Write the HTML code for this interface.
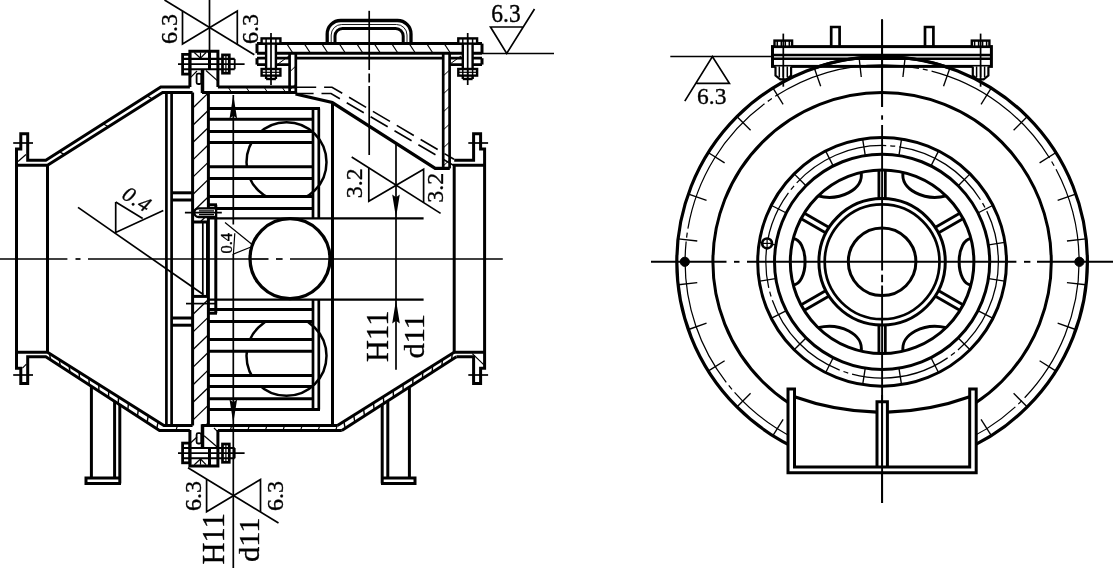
<!DOCTYPE html>
<html><head><meta charset="utf-8"><style>
html,body{margin:0;padding:0;background:#fff;}
svg{display:block;font-family:"Liberation Serif",serif;filter:blur(0.35px);}
</style></head><body>
<svg width="1113" height="568" viewBox="0 0 1113 568" fill="none" stroke="#000">
<rect x="0" y="0" width="1113" height="568" fill="#fff" stroke="none"/>
<line x1="0" y1="259" x2="67.4" y2="259" stroke-width="1.7"/>
<line x1="75.5" y1="259" x2="80.5" y2="259" stroke-width="1.7"/>
<line x1="88" y1="259" x2="268.5" y2="259" stroke-width="1.7"/>
<line x1="276" y1="259" x2="282.6" y2="259" stroke-width="1.7"/>
<line x1="290" y1="259" x2="502.8" y2="259" stroke-width="1.7"/>
<circle cx="286.5" cy="162.2" r="40" stroke-width="2.5" fill="none"/>
<circle cx="286.5" cy="355.8" r="40" stroke-width="2.5" fill="none"/>
<rect x="208.5" y="108.5" width="104" height="10.8" fill="#fff" stroke="none"/>
<line x1="208.5" y1="108.5" x2="313" y2="108.5" stroke-width="3.0"/>
<line x1="208.5" y1="119.3" x2="313" y2="119.3" stroke-width="3.0"/>
<rect x="208.5" y="398.7" width="104" height="10.8" fill="#fff" stroke="none"/>
<line x1="208.5" y1="398.7" x2="313" y2="398.7" stroke-width="3.0"/>
<line x1="208.5" y1="409.5" x2="313" y2="409.5" stroke-width="3.0"/>
<rect x="208.5" y="131.4" width="104" height="11" fill="#fff" stroke="none"/>
<line x1="208.5" y1="131.4" x2="313" y2="131.4" stroke-width="3.0"/>
<line x1="208.5" y1="142.4" x2="313" y2="142.4" stroke-width="3.0"/>
<rect x="208.5" y="375.6" width="104" height="11" fill="#fff" stroke="none"/>
<line x1="208.5" y1="375.6" x2="313" y2="375.6" stroke-width="3.0"/>
<line x1="208.5" y1="386.6" x2="313" y2="386.6" stroke-width="3.0"/>
<rect x="208.5" y="166.8" width="104" height="11.7" fill="#fff" stroke="none"/>
<line x1="208.5" y1="166.8" x2="313" y2="166.8" stroke-width="3.0"/>
<line x1="208.5" y1="178.5" x2="313" y2="178.5" stroke-width="3.0"/>
<rect x="208.5" y="339.5" width="104" height="11.7" fill="#fff" stroke="none"/>
<line x1="208.5" y1="339.5" x2="313" y2="339.5" stroke-width="3.0"/>
<line x1="208.5" y1="351.2" x2="313" y2="351.2" stroke-width="3.0"/>
<rect x="208.5" y="196.5" width="104" height="12" fill="#fff" stroke="none"/>
<line x1="208.5" y1="196.5" x2="313" y2="196.5" stroke-width="3.0"/>
<line x1="208.5" y1="208.5" x2="313" y2="208.5" stroke-width="3.0"/>
<rect x="208.5" y="309.5" width="104" height="12" fill="#fff" stroke="none"/>
<line x1="208.5" y1="309.5" x2="313" y2="309.5" stroke-width="3.0"/>
<line x1="208.5" y1="321.5" x2="313" y2="321.5" stroke-width="3.0"/>
<line x1="312" y1="108.5" x2="320" y2="108.5" stroke-width="3.0"/>
<line x1="312" y1="409.5" x2="320" y2="409.5" stroke-width="3.0"/>
<line x1="313" y1="108.5" x2="313" y2="218.3" stroke-width="2.7"/>
<line x1="313" y1="299.7" x2="313" y2="409.5" stroke-width="2.7"/>
<line x1="318.8" y1="108.5" x2="318.8" y2="218.3" stroke-width="2.7"/>
<line x1="318.8" y1="299.7" x2="318.8" y2="409.5" stroke-width="2.7"/>
<line x1="208.5" y1="218.3" x2="423.6" y2="218.3" stroke-width="2.3"/>
<line x1="208.5" y1="299.7" x2="423.6" y2="299.7" stroke-width="2.3"/>
<line x1="332.5" y1="103.5" x2="332.5" y2="425.4" stroke-width="3.0"/>
<circle cx="290" cy="258.6" r="40" stroke-width="3.3" fill="#fff"/>
<line x1="250" y1="259" x2="268.5" y2="259" stroke-width="1.7"/>
<line x1="276" y1="259" x2="282.6" y2="259" stroke-width="1.7"/>
<line x1="290" y1="259" x2="330" y2="259" stroke-width="1.7"/>
<path d="M16.5 259 L16.5 149 L20.8 149 L20.8 133.8 L27.7 133.8 L27.7 160.2 L45.8 160.2 L160.8 87.1 L189.9 87.1" stroke-width="3.0" fill="none" stroke-linejoin="miter"/>
<path d="M16.5 165.3 L47.5 165.3 L162.6 92.5 L192.6 92.5" stroke-width="3.0" fill="none" stroke-linejoin="miter"/>
<line x1="47.5" y1="165.3" x2="47.5" y2="259" stroke-width="3.0"/>
<line x1="13.2" y1="143" x2="33" y2="143" stroke-width="1.7"/>
<line x1="18" y1="161.5" x2="26" y2="154.5" stroke-width="1.2"/>
<line x1="166.4" y1="92.5" x2="166.4" y2="259" stroke-width="2.7"/>
<line x1="171.6" y1="92.5" x2="171.6" y2="259" stroke-width="2.7"/>
<line x1="171.6" y1="192.8" x2="192.6" y2="192.8" stroke-width="3.0"/>
<line x1="171.6" y1="200" x2="192.6" y2="200" stroke-width="3.0"/>
<path d="M484.6 259 L484.6 149 L480.6 149 L480.6 133.8 L473.6 133.8 L473.6 160.2 L454.2 160.2" stroke-width="3.0" fill="none" stroke-linejoin="miter"/>
<path d="M484.6 165.3 L454.2 165.3 L454.2 259" stroke-width="3.0" fill="none" stroke-linejoin="miter"/>
<line x1="468.3" y1="143" x2="488.1" y2="143" stroke-width="1.7"/>
<path d="M16.5 259 L16.5 368.2 L20.8 368.2 L20.8 383.6 L27.7 383.6 L27.7 356.7 L45.8 356.7 L159.5 430.4 L189.9 430.4" stroke-width="3.0" fill="none" stroke-linejoin="miter"/>
<path d="M16.5 352.3 L47.5 352.3 L163.9 425.4 L192.6 425.4" stroke-width="3.0" fill="none" stroke-linejoin="miter"/>
<line x1="47.5" y1="352.3" x2="47.5" y2="259" stroke-width="3.0"/>
<line x1="13.2" y1="375" x2="33" y2="375" stroke-width="1.7"/>
<line x1="22.4" y1="368.2" x2="26.4" y2="364.2" stroke-width="1.2"/>
<line x1="166.4" y1="425.4" x2="166.4" y2="259" stroke-width="2.7"/>
<line x1="171.6" y1="425.4" x2="171.6" y2="259" stroke-width="2.7"/>
<line x1="171.6" y1="325.2" x2="192.6" y2="325.2" stroke-width="3.0"/>
<line x1="171.6" y1="318" x2="192.6" y2="318" stroke-width="3.0"/>
<path d="M484.6 259 L484.6 368.2 L480.6 368.2 L480.6 383.6 L473.6 383.6 L473.6 356.7 L456.4 356.7" stroke-width="3.0" fill="none" stroke-linejoin="miter"/>
<path d="M484.6 352.3 L454.2 352.3 L454.2 259" stroke-width="3.0" fill="none" stroke-linejoin="miter"/>
<line x1="468.3" y1="375" x2="488.1" y2="375" stroke-width="1.7"/>
<line x1="472.3" y1="353.6" x2="483.7" y2="364.6" stroke-width="1.2"/>
<line x1="59.3" y1="151.62" x2="64.39" y2="154.62" stroke-width="1.2"/>
<line x1="103.19" y1="123.72" x2="108.32" y2="126.83" stroke-width="1.2"/>
<line x1="147.07" y1="95.83" x2="152.24" y2="99.05" stroke-width="1.2"/>
<line x1="50.63" y1="359.83" x2="49.43" y2="353.51" stroke-width="1.4"/>
<line x1="60.28" y1="366.08" x2="59.31" y2="359.72" stroke-width="1.4"/>
<line x1="69.93" y1="372.34" x2="69.19" y2="365.92" stroke-width="1.4"/>
<line x1="79.58" y1="378.59" x2="79.07" y2="372.13" stroke-width="1.4"/>
<line x1="89.23" y1="384.85" x2="88.95" y2="378.33" stroke-width="1.4"/>
<line x1="98.88" y1="391.1" x2="98.83" y2="384.53" stroke-width="1.4"/>
<line x1="108.53" y1="397.36" x2="108.71" y2="390.74" stroke-width="1.4"/>
<line x1="118.18" y1="403.61" x2="118.59" y2="396.94" stroke-width="1.4"/>
<line x1="127.83" y1="409.87" x2="128.47" y2="403.15" stroke-width="1.4"/>
<line x1="137.48" y1="416.12" x2="138.35" y2="409.35" stroke-width="1.4"/>
<line x1="147.13" y1="422.38" x2="148.22" y2="415.56" stroke-width="1.4"/>
<line x1="156.78" y1="428.63" x2="158.1" y2="421.76" stroke-width="1.4"/>
<line x1="451.56" y1="359.81" x2="452.27" y2="353.51" stroke-width="1.4"/>
<line x1="441.89" y1="366.03" x2="442.41" y2="359.68" stroke-width="1.4"/>
<line x1="432.22" y1="372.25" x2="432.55" y2="365.85" stroke-width="1.4"/>
<line x1="422.55" y1="378.47" x2="422.7" y2="372.02" stroke-width="1.4"/>
<line x1="412.87" y1="384.69" x2="412.84" y2="378.19" stroke-width="1.4"/>
<line x1="403.2" y1="390.91" x2="402.98" y2="384.36" stroke-width="1.4"/>
<line x1="393.53" y1="397.13" x2="393.12" y2="390.53" stroke-width="1.4"/>
<line x1="383.86" y1="403.35" x2="383.26" y2="396.7" stroke-width="1.4"/>
<line x1="374.18" y1="409.57" x2="373.41" y2="402.87" stroke-width="1.4"/>
<line x1="364.51" y1="415.79" x2="363.55" y2="409.04" stroke-width="1.4"/>
<line x1="354.84" y1="422.01" x2="353.69" y2="415.2" stroke-width="1.4"/>
<line x1="345.17" y1="428.23" x2="343.83" y2="421.37" stroke-width="1.4"/>
<line x1="217.9" y1="87.1" x2="296" y2="87.1" stroke-width="3.0"/>
<line x1="202" y1="92.5" x2="296" y2="92.5" stroke-width="3.0"/>
<line x1="228" y1="87" x2="232" y2="93" stroke-width="1"/>
<line x1="246" y1="87" x2="250" y2="93" stroke-width="1"/>
<line x1="264" y1="87" x2="268" y2="93" stroke-width="1"/>
<line x1="282" y1="87" x2="286" y2="93" stroke-width="1"/>
<line x1="217.9" y1="430.4" x2="341.8" y2="430.4" stroke-width="3.0"/>
<line x1="202" y1="425.4" x2="337.4" y2="425.4" stroke-width="3.0"/>
<line x1="230.2" y1="430.4" x2="231.8" y2="425.4" stroke-width="1.2"/>
<line x1="247.8" y1="430.4" x2="249.4" y2="425.4" stroke-width="1.2"/>
<line x1="265.4" y1="430.4" x2="267" y2="425.4" stroke-width="1.2"/>
<line x1="283" y1="430.4" x2="284.6" y2="425.4" stroke-width="1.2"/>
<line x1="300.6" y1="430.4" x2="302.2" y2="425.4" stroke-width="1.2"/>
<line x1="318.2" y1="430.4" x2="319.8" y2="425.4" stroke-width="1.2"/>
<line x1="335.7" y1="430.4" x2="337.3" y2="425.4" stroke-width="1.2"/>
<line x1="176" y1="430.4" x2="177.5" y2="425.4" stroke-width="1.2"/>
<line x1="192.6" y1="92.6" x2="192.6" y2="425.4" stroke-width="3.0"/>
<line x1="208.4" y1="93" x2="208.4" y2="425" stroke-width="3.0"/>
<clipPath id="cpU"><rect x="192.6" y="93" width="15.8" height="128.5"/></clipPath>
<clipPath id="cpL"><rect x="192.6" y="296.5" width="15.8" height="128.5"/></clipPath>
<g clip-path="url(#cpU)">
<line x1="192.6" y1="108.2" x2="208.4" y2="92.9" stroke-width="1.3"/>
<line x1="192.6" y1="125.5" x2="208.4" y2="110.2" stroke-width="1.3"/>
<line x1="192.6" y1="142.8" x2="208.4" y2="127.5" stroke-width="1.3"/>
<line x1="192.6" y1="160.1" x2="208.4" y2="144.8" stroke-width="1.3"/>
<line x1="192.6" y1="177.4" x2="208.4" y2="162.1" stroke-width="1.3"/>
<line x1="192.6" y1="194.7" x2="208.4" y2="179.4" stroke-width="1.3"/>
<line x1="192.6" y1="212" x2="208.4" y2="196.7" stroke-width="1.3"/>
<line x1="192.6" y1="229.3" x2="208.4" y2="214" stroke-width="1.3"/>
</g>
<g clip-path="url(#cpL)">
<line x1="192.6" y1="314.8" x2="208.4" y2="299.5" stroke-width="1.3"/>
<line x1="192.6" y1="332.4" x2="208.4" y2="317.1" stroke-width="1.3"/>
<line x1="192.6" y1="350" x2="208.4" y2="334.7" stroke-width="1.3"/>
<line x1="192.6" y1="367.6" x2="208.4" y2="352.3" stroke-width="1.3"/>
<line x1="192.6" y1="385.2" x2="208.4" y2="369.9" stroke-width="1.3"/>
<line x1="192.6" y1="402.8" x2="208.4" y2="387.5" stroke-width="1.3"/>
<line x1="192.6" y1="420.4" x2="208.4" y2="405.1" stroke-width="1.3"/>
<line x1="192.6" y1="438" x2="208.4" y2="422.7" stroke-width="1.3"/>
</g>
<line x1="192.6" y1="222" x2="207.5" y2="222" stroke-width="3.0"/>
<line x1="192.6" y1="296.4" x2="207.5" y2="296.4" stroke-width="3.0"/>
<line x1="202.8" y1="222" x2="202.8" y2="296" stroke-width="1.7"/>
<line x1="207.5" y1="222" x2="207.5" y2="296.4" stroke-width="3.0"/>
<line x1="215.8" y1="204.8" x2="215.8" y2="313.2" stroke-width="3.0"/>
<line x1="207.5" y1="204.8" x2="217" y2="204.8" stroke-width="3.0"/>
<line x1="207.5" y1="313.2" x2="217" y2="313.2" stroke-width="3.0"/>
<line x1="186" y1="303.6" x2="215.6" y2="303.6" stroke-width="1.7"/>
<path d="M215 208.4 L198.6 208.4 A4.3 4.3 0 0 0 198.6 217 L215 217" stroke-width="2.4" fill="#fff"/>
<line x1="184.9" y1="212.7" x2="221.8" y2="212.7" stroke-width="1.7"/>
<line x1="199" y1="210.9" x2="214" y2="210.9" stroke-width="1.3"/>
<line x1="199" y1="214.6" x2="214" y2="214.6" stroke-width="1.3"/>
<path d="M295.5 94 L332.3 102.5 L435.2 168.4 L449.8 168.4" stroke-width="3.3" fill="none" stroke-linejoin="miter"/>
<path d="M296.4 87.2 L332 87.2 L454 159.2" stroke-width="1.6" fill="none" stroke-dasharray="19.8 7.9"/>
<path d="M296.4 93.5 L331 93.5 L454 165.6" stroke-width="1.6" fill="none" stroke-dasharray="17.2 7.9 19.8 7.9 19.8 7.9 19.8 7.9 19.8 7.9 19.8 7.9 19.8 7.9"/>
<line x1="289.6" y1="53" x2="289.6" y2="94" stroke-width="2.7"/>
<line x1="295.8" y1="53" x2="295.8" y2="94" stroke-width="2.7"/>
<line x1="443.2" y1="53" x2="443.2" y2="168.4" stroke-width="2.7"/>
<line x1="449.6" y1="53" x2="449.6" y2="168.4" stroke-width="2.7"/>
<line x1="289.6" y1="72" x2="295.8" y2="66" stroke-width="1"/>
<line x1="289.6" y1="90" x2="295.8" y2="84" stroke-width="1"/>
<line x1="443.2" y1="76" x2="449.6" y2="70" stroke-width="1"/>
<line x1="443.2" y1="94" x2="449.6" y2="88" stroke-width="1"/>
<line x1="443.2" y1="112" x2="449.6" y2="106" stroke-width="1"/>
<line x1="443.2" y1="130" x2="449.6" y2="124" stroke-width="1"/>
<line x1="443.2" y1="148" x2="449.6" y2="142" stroke-width="1"/>
<line x1="443.2" y1="166" x2="449.6" y2="160" stroke-width="1"/>
<line x1="257" y1="43.6" x2="482" y2="43.6" stroke-width="3.0"/>
<line x1="257" y1="53.2" x2="482" y2="53.2" stroke-width="3.0"/>
<line x1="257" y1="43.6" x2="257" y2="53.2" stroke-width="3.0"/>
<line x1="482" y1="43.6" x2="482" y2="53.2" stroke-width="3.0"/>
<line x1="257" y1="58.2" x2="289.6" y2="58.2" stroke-width="2.7"/>
<line x1="257" y1="64.6" x2="289.6" y2="64.6" stroke-width="2.7"/>
<line x1="257" y1="58.2" x2="257" y2="64.6" stroke-width="3.0"/>
<line x1="295.8" y1="58.2" x2="443.2" y2="58.2" stroke-width="2.7"/>
<line x1="449.6" y1="58.2" x2="482" y2="58.2" stroke-width="2.7"/>
<line x1="449.6" y1="64.6" x2="482" y2="64.6" stroke-width="2.7"/>
<line x1="482" y1="58.2" x2="482" y2="64.6" stroke-width="3.0"/>
<line x1="286.7" y1="43.6" x2="293" y2="53.2" stroke-width="1.1"/>
<line x1="304.2" y1="43.6" x2="310.5" y2="53.2" stroke-width="1.1"/>
<line x1="321.7" y1="43.6" x2="328" y2="53.2" stroke-width="1.1"/>
<line x1="339.2" y1="43.6" x2="345.5" y2="53.2" stroke-width="1.1"/>
<line x1="356.7" y1="43.6" x2="363" y2="53.2" stroke-width="1.1"/>
<line x1="374.2" y1="43.6" x2="380.5" y2="53.2" stroke-width="1.1"/>
<line x1="391.7" y1="43.6" x2="398" y2="53.2" stroke-width="1.1"/>
<line x1="409.2" y1="43.6" x2="415.5" y2="53.2" stroke-width="1.1"/>
<line x1="426.7" y1="43.6" x2="433" y2="53.2" stroke-width="1.1"/>
<line x1="444.2" y1="43.6" x2="450.5" y2="53.2" stroke-width="1.1"/>
<line x1="278" y1="64" x2="289" y2="56" stroke-width="1"/>
<line x1="461" y1="56" x2="450" y2="64" stroke-width="1"/>
<rect x="266.1" y="43.6" width="9.8" height="35.5" fill="#fff" stroke="none"/>
<rect x="261.6" y="38.4" width="18.8" height="5.2" stroke-width="2.4" fill="#fff"/>
<line x1="266.1" y1="38.4" x2="266.1" y2="43.6" stroke-width="1.5"/>
<line x1="271" y1="38.4" x2="271" y2="43.6" stroke-width="1.5"/>
<line x1="275.9" y1="38.4" x2="275.9" y2="43.6" stroke-width="1.5"/>
<line x1="266.1" y1="43.6" x2="266.1" y2="79" stroke-width="2.4"/>
<line x1="275.9" y1="43.6" x2="275.9" y2="79" stroke-width="2.4"/>
<rect x="261.6" y="69" width="18.8" height="6.6" stroke-width="2.4" fill="#fff"/>
<line x1="266.1" y1="69" x2="266.1" y2="79" stroke-width="1.5"/>
<line x1="271" y1="69" x2="271" y2="79" stroke-width="1.5"/>
<line x1="275.9" y1="69" x2="275.9" y2="79" stroke-width="1.5"/>
<line x1="266.1" y1="79" x2="275.9" y2="79" stroke-width="2.4"/>
<line x1="261.6" y1="72.3" x2="280.4" y2="72.3" stroke-width="1.2"/>
<line x1="271" y1="33" x2="271" y2="85" stroke-width="1.7"/>
<rect x="462.8" y="43.6" width="9.8" height="35.5" fill="#fff" stroke="none"/>
<rect x="458.3" y="38.4" width="18.8" height="5.2" stroke-width="2.4" fill="#fff"/>
<line x1="462.8" y1="38.4" x2="462.8" y2="43.6" stroke-width="1.5"/>
<line x1="467.7" y1="38.4" x2="467.7" y2="43.6" stroke-width="1.5"/>
<line x1="472.6" y1="38.4" x2="472.6" y2="43.6" stroke-width="1.5"/>
<line x1="462.8" y1="43.6" x2="462.8" y2="79" stroke-width="2.4"/>
<line x1="472.6" y1="43.6" x2="472.6" y2="79" stroke-width="2.4"/>
<rect x="458.3" y="69" width="18.8" height="6.6" stroke-width="2.4" fill="#fff"/>
<line x1="462.8" y1="69" x2="462.8" y2="79" stroke-width="1.5"/>
<line x1="467.7" y1="69" x2="467.7" y2="79" stroke-width="1.5"/>
<line x1="472.6" y1="69" x2="472.6" y2="79" stroke-width="1.5"/>
<line x1="462.8" y1="79" x2="472.6" y2="79" stroke-width="2.4"/>
<line x1="458.3" y1="72.3" x2="477.1" y2="72.3" stroke-width="1.2"/>
<line x1="467.7" y1="33" x2="467.7" y2="85" stroke-width="1.7"/>
<path d="M327.2 43.6 L327.2 34 A13.5 13.5 0 0 1 340.7 20.5 L397.5 20.5 A13.5 13.5 0 0 1 411 34 L411 43.6" stroke-width="3.3" fill="none"/>
<path d="M331.2 43.6 L331.2 35 A10.5 10.5 0 0 1 341.7 24.5 L396.5 24.5 A10.5 10.5 0 0 1 407 35 L407 43.6" stroke-width="0.9" fill="none"/>
<path d="M335 43.6 L335 36 A7.5 7.5 0 0 1 342.5 28.5 L395.7 28.5 A7.5 7.5 0 0 1 403.2 36 L403.2 43.6" stroke-width="3.0" fill="none"/>
<line x1="369.2" y1="10.8" x2="369.2" y2="70" stroke-width="1.7"/>
<line x1="369.2" y1="73.5" x2="369.2" y2="82.5" stroke-width="1.7"/>
<line x1="369.2" y1="86" x2="369.2" y2="155" stroke-width="1.7"/>
<path d="M454.2 352.3 L337.4 425.4" stroke-width="3.0" fill="none" stroke-linejoin="miter"/>
<path d="M456.4 356.7 L341.8 430.4" stroke-width="3.0" fill="none" stroke-linejoin="miter"/>
<path d="M91.4 387 L91.4 478" stroke-width="3.0" fill="none" stroke-linejoin="miter"/>
<path d="M114.6 401.5 L114.6 478" stroke-width="3.0" fill="none" stroke-linejoin="miter"/>
<path d="M119.8 404.5 L119.8 483.5" stroke-width="3.0" fill="none" stroke-linejoin="miter"/>
<path d="M119.8 478 L86 478 L86 483.5 L121 483.5" stroke-width="3.0" fill="none" stroke-linejoin="miter"/>
<path d="M409.4 387.5 L409.4 478" stroke-width="3.0" fill="none" stroke-linejoin="miter"/>
<path d="M387.8 401.5 L387.8 478" stroke-width="3.0" fill="none" stroke-linejoin="miter"/>
<path d="M382.2 405 L382.2 483.5" stroke-width="3.0" fill="none" stroke-linejoin="miter"/>
<path d="M382.2 478 L415 478 L415 483.5 L381 483.5" stroke-width="3.0" fill="none" stroke-linejoin="miter"/>
<path d="M189.9 87.1 L189.9 51.3 L217.9 51.3 L217.9 87.1" stroke-width="3.0" fill="none" stroke-linejoin="miter"/>
<rect x="182.6" y="54.4" width="7.3" height="19.7" stroke-width="2.8" fill="none"/>
<line x1="182.6" y1="58.9" x2="234.7" y2="58.9" stroke-width="2.1"/>
<line x1="182.6" y1="69.2" x2="234.7" y2="69.2" stroke-width="2.1"/>
<line x1="178" y1="64.1" x2="244.6" y2="64.1" stroke-width="1.7"/>
<line x1="209.5" y1="51.3" x2="209.5" y2="69.2" stroke-width="3.0"/>
<line x1="200.5" y1="58.2" x2="194.3" y2="52.5" stroke-width="1.2"/>
<line x1="200.5" y1="58.2" x2="200.5" y2="52.5" stroke-width="1.2"/>
<line x1="200.5" y1="58.2" x2="206" y2="52.5" stroke-width="1.2"/>
<rect x="222.5" y="54.9" width="6.8" height="18.3" stroke-width="2.7" fill="none"/>
<line x1="225.9" y1="54.9" x2="225.9" y2="73.2" stroke-width="1.2"/>
<line x1="234.7" y1="58.9" x2="234.7" y2="69.2" stroke-width="1.8"/>
<line x1="202.5" y1="69.2" x2="202.5" y2="93" stroke-width="3.5"/>
<rect x="196.6" y="73.7" width="4.6" height="10.3" rx="1.5" stroke-width="1.8" fill="#fff"/>
<line x1="190.7" y1="77.3" x2="197" y2="71" stroke-width="1.2"/>
<line x1="206" y1="70.5" x2="217.4" y2="80.6" stroke-width="1.2"/>
<path d="M189.9 430.1 L189.9 465.9 L217.9 465.9 L217.9 430.1" stroke-width="3.0" fill="none" stroke-linejoin="miter"/>
<rect x="182.6" y="443.1" width="7.3" height="19.7" stroke-width="2.8" fill="none"/>
<line x1="182.6" y1="458.3" x2="234.7" y2="458.3" stroke-width="2.1"/>
<line x1="182.6" y1="448" x2="234.7" y2="448" stroke-width="2.1"/>
<line x1="178" y1="453.1" x2="244.6" y2="453.1" stroke-width="1.7"/>
<line x1="209.5" y1="465.9" x2="209.5" y2="448" stroke-width="3.0"/>
<line x1="200.5" y1="459" x2="194.3" y2="464.7" stroke-width="1.2"/>
<line x1="200.5" y1="459" x2="200.5" y2="464.7" stroke-width="1.2"/>
<line x1="200.5" y1="459" x2="206" y2="464.7" stroke-width="1.2"/>
<rect x="222.5" y="444" width="6.8" height="18.3" stroke-width="2.7" fill="none"/>
<line x1="225.9" y1="462.3" x2="225.9" y2="444" stroke-width="1.2"/>
<line x1="234.7" y1="458.3" x2="234.7" y2="448" stroke-width="1.8"/>
<line x1="202.5" y1="448" x2="202.5" y2="424.2" stroke-width="3.5"/>
<rect x="196.6" y="433.2" width="4.6" height="10.3" rx="1.5" stroke-width="1.8" fill="#fff"/>
<line x1="191.1" y1="442.5" x2="197" y2="437" stroke-width="1.2"/>
<line x1="204.1" y1="435.7" x2="217.2" y2="447" stroke-width="1.2"/>
<line x1="214" y1="428" x2="217.2" y2="431.2" stroke-width="1.2"/>
<line x1="233.3" y1="95" x2="233.3" y2="224.5" stroke-width="1.7"/>
<line x1="233.3" y1="254" x2="233.3" y2="568" stroke-width="1.7"/>
<line x1="209.5" y1="0" x2="209.5" y2="51" stroke-width="1.7"/>
<path d="M233.3 95 L229.5 118.5 L233.3 115.68 L237.1 118.5 Z" fill="#000" stroke="none"/>
<path d="M233.3 423 L229.5 399.5 L233.3 402.32 L237.1 399.5 Z" fill="#000" stroke="none"/>
<line x1="396" y1="144" x2="396" y2="369.7" stroke-width="1.7"/>
<path d="M396 217.5 L392.2 194.5 L396 197.26 L399.8 194.5 Z" fill="#000" stroke="none"/>
<path d="M396 300 L392.2 323.5 L396 320.68 L399.8 323.5 Z" fill="#000" stroke="none"/>
<line x1="164.5" y1="0" x2="254.3" y2="54.8" stroke-width="1.7"/>
<path d="M182.5 10.98 L182.5 44 L237.3 11.1 L237.3 44.43" stroke-width="1.7" fill="none" stroke-linejoin="miter"/>
<text transform="translate(177.3 44) rotate(-90) scale(1 1)" font-size="24" text-anchor="start" stroke="#000" stroke-width="0.35" fill="#000">6.3</text>
<text transform="translate(257.5 44) rotate(-90) scale(1 1)" font-size="24" text-anchor="start" stroke="#000" stroke-width="0.35" fill="#000">6.3</text>
<line x1="188" y1="467.8" x2="278.5" y2="523" stroke-width="1.7"/>
<path d="M206.6 479.14 L206.6 511.8 L260.5 479.5 L260.5 512.02" stroke-width="1.7" fill="none" stroke-linejoin="miter"/>
<text transform="translate(201.3 511) rotate(-90) scale(1 1)" font-size="24" text-anchor="start" stroke="#000" stroke-width="0.35" fill="#000">6.3</text>
<text transform="translate(283 511) rotate(-90) scale(1 1)" font-size="24" text-anchor="start" stroke="#000" stroke-width="0.35" fill="#000">6.3</text>
<text transform="translate(223.7 564.5) rotate(-90) scale(1 1.0)" font-size="30.5" text-anchor="start" stroke="#000" stroke-width="0.35" fill="#000">H11</text>
<text transform="translate(259.4 562) rotate(-90) scale(1 0.96)" font-size="30.5" text-anchor="start" stroke="#000" stroke-width="0.35" fill="#000">d11</text>
<line x1="351.7" y1="157" x2="440.6" y2="213.4" stroke-width="1.7"/>
<path d="M368.8 167.85 L368.8 201.3 L423.6 169.3 L423.6 202.61" stroke-width="1.7" fill="none" stroke-linejoin="miter"/>
<text transform="translate(362.3 198.3) rotate(-90) scale(1 1)" font-size="24" text-anchor="start" stroke="#000" stroke-width="0.35" fill="#000">3.2</text>
<text transform="translate(442.8 202.8) rotate(-90) scale(1 1)" font-size="24" text-anchor="start" stroke="#000" stroke-width="0.35" fill="#000">3.2</text>
<text transform="translate(387.6 362) rotate(-90) scale(1 1.0)" font-size="30.5" text-anchor="start" stroke="#000" stroke-width="0.35" fill="#000">H11</text>
<text transform="translate(423.7 358.5) rotate(-90) scale(1 0.96)" font-size="30.5" text-anchor="start" stroke="#000" stroke-width="0.35" fill="#000">d11</text>
<line x1="482" y1="53.5" x2="554" y2="53.5" stroke-width="1.7"/>
<path d="M534.5 9 L506.7 53.5 L490.5 27 L522.9 27" stroke-width="1.7" fill="none" stroke-linejoin="miter"/>
<text transform="translate(491.3 21.5) rotate(0) scale(1 1.1)" font-size="23.5" text-anchor="start" stroke="#000" stroke-width="0.35" fill="#000">6.3</text>
<line x1="78" y1="207.4" x2="203.3" y2="294.5" stroke-width="1.7"/>
<path d="M115.7 202 L115.7 232.5 L163.3 210.4" stroke-width="1.7" fill="none" stroke-linejoin="miter"/>
<line x1="115.7" y1="202" x2="142.7" y2="218.5" stroke-width="1.7"/>
<text transform="translate(120.8 197.8) rotate(31.5) scale(1 1)" font-size="21.5" text-anchor="start" font-style="italic" letter-spacing="1.0" stroke="#000" stroke-width="0.35" fill="#000">0.4</text>
<line x1="225" y1="222.5" x2="251.5" y2="244" stroke-width="1.2"/>
<path d="M234.8 233.2 L233.4 254 L251 247" stroke-width="1.2" fill="none" stroke-linejoin="miter"/>
<text transform="translate(232.2 253.5) rotate(-90) scale(1 1)" font-size="16.5" text-anchor="start" stroke="#000" stroke-width="0.35" fill="#000">0.4</text>
<line x1="651" y1="261.8" x2="726.5" y2="261.8" stroke-width="1.9"/>
<line x1="734" y1="261.8" x2="739.5" y2="261.8" stroke-width="1.9"/>
<line x1="747" y1="261.8" x2="1016.4" y2="261.8" stroke-width="1.9"/>
<line x1="1024" y1="261.8" x2="1030.4" y2="261.8" stroke-width="1.9"/>
<line x1="1037" y1="261.8" x2="1113" y2="261.8" stroke-width="1.9"/>
<line x1="882.1" y1="19.4" x2="882.1" y2="107" stroke-width="1.9"/>
<line x1="882.1" y1="115.3" x2="882.1" y2="119.7" stroke-width="1.9"/>
<line x1="882.1" y1="125" x2="882.1" y2="270.5" stroke-width="1.9"/>
<line x1="882.1" y1="274.7" x2="882.1" y2="282.2" stroke-width="1.9"/>
<line x1="882.1" y1="285.5" x2="882.1" y2="503" stroke-width="1.9"/>
<clipPath id="cpR"><path d="M640 0 H1113 V568 H640 Z M788 389 V480 H976.2 V389 Z" clip-rule="evenodd"/></clipPath>
<g clip-path="url(#cpR)">
<circle cx="882.1" cy="261.8" r="205.3" stroke-width="3.2" fill="none"/>
<circle cx="882.1" cy="261.8" r="197" stroke-width="1.25" fill="none" stroke-dasharray="150 4 5 4"/>
<circle cx="882.1" cy="261.8" r="169.2" stroke-width="3.0" fill="none"/>
<line x1="859.15" y1="58.09" x2="861.27" y2="76.97" stroke-width="1.35"/>
<line x1="814.39" y1="68.3" x2="820.67" y2="86.24" stroke-width="1.35"/>
<line x1="773.03" y1="88.22" x2="783.14" y2="104.31" stroke-width="1.35"/>
<line x1="737.14" y1="116.84" x2="750.58" y2="130.28" stroke-width="1.35"/>
<line x1="708.52" y1="152.73" x2="724.61" y2="162.84" stroke-width="1.35"/>
<line x1="688.6" y1="194.09" x2="706.54" y2="200.37" stroke-width="1.35"/>
<line x1="678.39" y1="238.85" x2="697.27" y2="240.97" stroke-width="1.35"/>
<line x1="678.39" y1="284.75" x2="697.27" y2="282.63" stroke-width="1.35"/>
<line x1="688.6" y1="329.51" x2="706.54" y2="323.23" stroke-width="1.35"/>
<line x1="708.52" y1="370.87" x2="724.61" y2="360.76" stroke-width="1.35"/>
<line x1="737.14" y1="406.76" x2="750.58" y2="393.32" stroke-width="1.35"/>
<line x1="773.03" y1="435.38" x2="783.14" y2="419.29" stroke-width="1.35"/>
<line x1="814.39" y1="455.3" x2="820.67" y2="437.36" stroke-width="1.35"/>
<line x1="859.15" y1="465.51" x2="861.27" y2="446.63" stroke-width="1.35"/>
<line x1="905.05" y1="465.51" x2="902.93" y2="446.63" stroke-width="1.35"/>
<line x1="949.81" y1="455.3" x2="943.53" y2="437.36" stroke-width="1.35"/>
<line x1="991.17" y1="435.38" x2="981.06" y2="419.29" stroke-width="1.35"/>
<line x1="1027.06" y1="406.76" x2="1013.62" y2="393.32" stroke-width="1.35"/>
<line x1="1055.68" y1="370.87" x2="1039.59" y2="360.76" stroke-width="1.35"/>
<line x1="1075.6" y1="329.51" x2="1057.66" y2="323.23" stroke-width="1.35"/>
<line x1="1085.81" y1="284.75" x2="1066.93" y2="282.63" stroke-width="1.35"/>
<line x1="1085.81" y1="238.85" x2="1066.93" y2="240.97" stroke-width="1.35"/>
<line x1="1075.6" y1="194.09" x2="1057.66" y2="200.37" stroke-width="1.35"/>
<line x1="1055.68" y1="152.73" x2="1039.59" y2="162.84" stroke-width="1.35"/>
<line x1="1027.06" y1="116.84" x2="1013.62" y2="130.28" stroke-width="1.35"/>
<line x1="991.17" y1="88.22" x2="981.06" y2="104.31" stroke-width="1.35"/>
<line x1="949.81" y1="68.3" x2="943.53" y2="86.24" stroke-width="1.35"/>
<line x1="905.05" y1="58.09" x2="902.93" y2="76.97" stroke-width="1.35"/>
</g>
<circle cx="882.1" cy="261.8" r="124.4" stroke-width="3.0" fill="none"/>
<circle cx="882.1" cy="261.8" r="116.3" stroke-width="1.25" fill="none" stroke-dasharray="100 4 5 4"/>
<circle cx="882.1" cy="261.8" r="107.6" stroke-width="3.0" fill="none"/>
<line x1="862.7" y1="139.33" x2="865.21" y2="155.13" stroke-width="1.35"/>
<line x1="825.81" y1="151.32" x2="833.07" y2="165.57" stroke-width="1.35"/>
<line x1="794.42" y1="174.12" x2="805.73" y2="185.43" stroke-width="1.35"/>
<line x1="771.62" y1="205.51" x2="785.87" y2="212.77" stroke-width="1.35"/>
<line x1="759.63" y1="242.4" x2="775.43" y2="244.91" stroke-width="1.35"/>
<line x1="759.63" y1="281.2" x2="775.43" y2="278.69" stroke-width="1.35"/>
<line x1="771.62" y1="318.09" x2="785.87" y2="310.83" stroke-width="1.35"/>
<line x1="794.42" y1="349.48" x2="805.73" y2="338.17" stroke-width="1.35"/>
<line x1="825.81" y1="372.28" x2="833.07" y2="358.03" stroke-width="1.35"/>
<line x1="862.7" y1="384.27" x2="865.21" y2="368.47" stroke-width="1.35"/>
<line x1="901.5" y1="384.27" x2="898.99" y2="368.47" stroke-width="1.35"/>
<line x1="938.39" y1="372.28" x2="931.13" y2="358.03" stroke-width="1.35"/>
<line x1="969.78" y1="349.48" x2="958.47" y2="338.17" stroke-width="1.35"/>
<line x1="992.58" y1="318.09" x2="978.33" y2="310.83" stroke-width="1.35"/>
<line x1="1004.57" y1="281.2" x2="988.77" y2="278.69" stroke-width="1.35"/>
<line x1="1004.57" y1="242.4" x2="988.77" y2="244.91" stroke-width="1.35"/>
<line x1="992.58" y1="205.51" x2="978.33" y2="212.77" stroke-width="1.35"/>
<line x1="969.78" y1="174.12" x2="958.47" y2="185.43" stroke-width="1.35"/>
<line x1="938.39" y1="151.32" x2="931.13" y2="165.57" stroke-width="1.35"/>
<line x1="901.5" y1="139.33" x2="898.99" y2="155.13" stroke-width="1.35"/>
<circle cx="882.1" cy="261.8" r="91.8" stroke-width="3.0" fill="none"/>
<circle cx="882.1" cy="261.8" r="63.2" stroke-width="3.0" fill="none"/>
<circle cx="882.1" cy="261.8" r="57.4" stroke-width="2.7" fill="none"/>
<circle cx="882.1" cy="261.8" r="33.8" stroke-width="3.0" fill="none"/>
<path d="M970.94 284.94 A11.8 23.14 0 0 1 970.94 238.66" stroke-width="3.0" fill="none"/>
<path d="M793.26 238.66 A11.8 23.14 0 0 1 793.26 284.94" stroke-width="3.0" fill="none"/>
<path d="M817.9 195.9 C839.2 201.4 864.6 189.7 861 171.7" stroke-width="3.0" fill="none"/>
<path d="M946.3 195.9 C925 201.4 899.6 189.7 903.2 171.7" stroke-width="3.0" fill="none"/>
<path d="M817.9 327.7 C839.2 322.2 864.6 333.9 861 351.9" stroke-width="3.0" fill="none"/>
<path d="M946.3 327.7 C925 322.2 899.6 333.9 903.2 351.9" stroke-width="3.0" fill="none"/>
<line x1="935.49" y1="227.28" x2="959.74" y2="213.28" stroke-width="2.8"/>
<line x1="938.69" y1="232.82" x2="962.94" y2="218.82" stroke-width="2.8"/>
<line x1="878.9" y1="198.3" x2="878.9" y2="170.3" stroke-width="2.8"/>
<line x1="885.3" y1="198.3" x2="885.3" y2="170.3" stroke-width="2.8"/>
<line x1="825.51" y1="232.82" x2="801.26" y2="218.82" stroke-width="2.8"/>
<line x1="828.71" y1="227.28" x2="804.46" y2="213.28" stroke-width="2.8"/>
<line x1="828.71" y1="296.32" x2="804.46" y2="310.32" stroke-width="2.8"/>
<line x1="825.51" y1="290.78" x2="801.26" y2="304.78" stroke-width="2.8"/>
<line x1="885.3" y1="325.3" x2="885.3" y2="353.3" stroke-width="2.8"/>
<line x1="878.9" y1="325.3" x2="878.9" y2="353.3" stroke-width="2.8"/>
<line x1="938.69" y1="290.78" x2="962.94" y2="304.78" stroke-width="2.8"/>
<line x1="935.49" y1="296.32" x2="959.74" y2="310.32" stroke-width="2.8"/>
<circle cx="684.8" cy="261.8" r="4.6" stroke-width="1" fill="#000"/>
<circle cx="1079.4" cy="261.8" r="4.6" stroke-width="1" fill="#000"/>
<circle cx="767.1" cy="243.4" r="4.9" stroke-width="2.7" fill="#fff"/>
<line x1="763" y1="243.4" x2="771.2" y2="243.4" stroke-width="1.2"/>
<line x1="767.1" y1="239.3" x2="767.1" y2="247.5" stroke-width="1.2"/>
<path d="M788 389 L788 472.8 L976.2 472.8 L976.2 389 L969.7 389 L969.7 467 L794.5 467 L794.5 389 Z" stroke-width="3.0" fill="#fff" stroke-linejoin="miter"/>
<path d="M794.5 396.8 A262.5 262.5 0 0 0 877 412.2" stroke-width="3.2" fill="none"/>
<path d="M887.4 412.2 A262.5 262.5 0 0 0 969.7 396.8" stroke-width="3.2" fill="none"/>
<path d="M877 467 L877 401.8 L887.4 401.8 L887.4 467" stroke-width="3.0" fill="none" stroke-linejoin="miter"/>
<line x1="882.1" y1="395" x2="882.1" y2="503" stroke-width="1.9"/>
<rect x="772.5" y="46.6" width="218.9" height="19.8" stroke-width="3.0" fill="none"/>
<line x1="772.5" y1="55" x2="991.4" y2="55" stroke-width="2.7"/>
<line x1="772.5" y1="58.8" x2="991.4" y2="58.8" stroke-width="2.5"/>
<path d="M812.1 68.8 A205.3 205.3 0 0 1 952.1 68.8" stroke-width="3.2" fill="none"/>
<line x1="882.1" y1="19.4" x2="882.1" y2="107" stroke-width="1.9"/>
<path d="M831.2 46.6 L831.2 27 L839.6 27 L839.6 46.6" stroke-width="2.7" fill="none" stroke-linejoin="miter"/>
<path d="M925 46.6 L925 27 L933.4 27 L933.4 46.6" stroke-width="2.7" fill="none" stroke-linejoin="miter"/>
<rect x="774.5" y="40.6" width="17.6" height="6" stroke-width="2.4" fill="#fff"/>
<line x1="777.3" y1="40.6" x2="777.3" y2="46.6" stroke-width="1.5"/>
<line x1="781.3" y1="40.6" x2="781.3" y2="46.6" stroke-width="1.5"/>
<line x1="785.3" y1="40.6" x2="785.3" y2="46.6" stroke-width="1.5"/>
<line x1="789.3" y1="40.6" x2="789.3" y2="46.6" stroke-width="1.5"/>
<path d="M775.5 66.4 V75.5 L780.3 79.3 H786.3 L791.1 75.5 V66.4" stroke-width="2.2" fill="#fff"/>
<line x1="779.3" y1="66.4" x2="779.3" y2="77" stroke-width="1.5"/>
<line x1="783.3" y1="66.4" x2="783.3" y2="77" stroke-width="1.5"/>
<line x1="787.3" y1="66.4" x2="787.3" y2="77" stroke-width="1.5"/>
<line x1="783.3" y1="33.6" x2="783.3" y2="86.7" stroke-width="1.7"/>
<rect x="971.8" y="40.6" width="17.6" height="6" stroke-width="2.4" fill="#fff"/>
<line x1="974.6" y1="40.6" x2="974.6" y2="46.6" stroke-width="1.5"/>
<line x1="978.6" y1="40.6" x2="978.6" y2="46.6" stroke-width="1.5"/>
<line x1="982.6" y1="40.6" x2="982.6" y2="46.6" stroke-width="1.5"/>
<line x1="986.6" y1="40.6" x2="986.6" y2="46.6" stroke-width="1.5"/>
<path d="M972.8 66.4 V75.5 L977.6 79.3 H983.6 L988.4 75.5 V66.4" stroke-width="2.2" fill="#fff"/>
<line x1="976.6" y1="66.4" x2="976.6" y2="77" stroke-width="1.5"/>
<line x1="980.6" y1="66.4" x2="980.6" y2="77" stroke-width="1.5"/>
<line x1="984.6" y1="66.4" x2="984.6" y2="77" stroke-width="1.5"/>
<line x1="980.6" y1="33.6" x2="980.6" y2="86.7" stroke-width="1.7"/>
<line x1="670.3" y1="56.5" x2="772.5" y2="56.5" stroke-width="1.7"/>
<path d="M684.8 101.1 L712.4 56.5 L729.4 83.3 L696.6 83.3" stroke-width="1.7" fill="none" stroke-linejoin="miter"/>
<text transform="translate(697 103.6) rotate(0) scale(1 1)" font-size="23.5" text-anchor="start" stroke="#000" stroke-width="0.35" fill="#000">6.3</text>
</svg>
</body></html>
